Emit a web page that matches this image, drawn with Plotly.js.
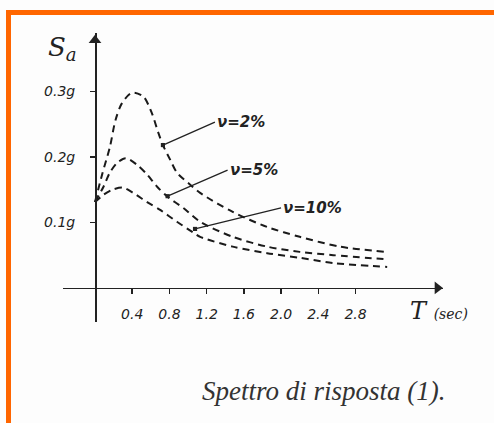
<!DOCTYPE html>
<html>
<head>
<meta charset="utf-8">
<script src="https://cdn.plot.ly/plotly-3.0.1.min.js"></script>
<style>
  html, body { margin: 0; padding: 0; background: #fdfdfd; }
  #frame { position: absolute; left: 6px; top: 10px; width: 500px; height: 430px;
           border-top: 5px solid #ff6600; border-left: 5px solid #ff6600; box-sizing: border-box; }
  #chart { position: absolute; left: 0; top: 0; width: 494px; height: 423px; }
</style>
</head>
<body>
<div id="frame"></div>
<div id="chart"></div>
<script>
// Period T (sec) and spectral acceleration Sa (g)
var T_2  = [0.00, 0.08, 0.16, 0.22, 0.29, 0.40, 0.52, 0.61, 0.68, 0.73, 0.81, 0.88, 1.02, 1.13, 1.48, 1.85, 2.20, 2.63, 3.12];
var Sa_2 = [0.131, 0.175, 0.215, 0.256, 0.282, 0.298, 0.292, 0.267, 0.237, 0.218, 0.195, 0.176, 0.158, 0.145, 0.116, 0.093, 0.078, 0.063, 0.055];

var T_5  = [0.00, 0.09, 0.16, 0.24, 0.33, 0.45, 0.56, 0.67, 0.78, 0.95, 1.13, 1.48, 1.85, 2.20, 2.56, 3.10];
var Sa_5 = [0.131, 0.154, 0.176, 0.191, 0.198, 0.188, 0.173, 0.154, 0.139, 0.122, 0.101, 0.078, 0.063, 0.055, 0.050, 0.044];

var T_10  = [0.00, 0.09, 0.19, 0.30, 0.41, 0.56, 0.70, 0.88, 1.05, 1.13, 1.48, 1.85, 2.20, 2.56, 3.14];
var Sa_10 = [0.131, 0.142, 0.150, 0.153, 0.145, 0.131, 0.119, 0.101, 0.085, 0.078, 0.063, 0.053, 0.046, 0.038, 0.032];

var xTickVals = [0.4, 0.8, 1.2, 1.6, 2.0, 2.4, 2.8];
var xTickText = ["0.4", "0.8", "1.2", "1.6", "2.0", "2.4", "2.8"];
var yTickVals = [0.1, 0.2, 0.3];
var yTickText = ["0.1g", "0.2g", "0.3g"];

var seriesLabels = ["ν=2%", "ν=5%", "ν=10%"];

var xRange = [-0.344, 3.74];
var yRange = [-0.052, 0.389];

var hand = {family: "DejaVu Sans", size: 14, color: "#222", style: "italic"};
var labelFont = {family: "DejaVu Sans", size: 15, color: "#222", style: "italic", weight: "bold"};

function curve(x, y) {
  return {x: x, y: y, type: "scatter", mode: "lines", showlegend: false, hoverinfo: "skip",
          line: {color: "#1a1a1a", width: 2, dash: "7px,5px", shape: "spline", smoothing: 0.8}};
}

// axis arrowheads drawn as triangle markers at the ends of the axis ranges
var arrowX = {x: [xRange[1] - 0.06], y: [0], type: "scatter", mode: "markers", showlegend: false,
  hoverinfo: "skip", cliponaxis: false, marker: {symbol: "triangle-right", size: 11, color: "#222"}};
var arrowY = {x: [0], y: [yRange[1] - 0.011], type: "scatter", mode: "markers", showlegend: false,
  hoverinfo: "skip", cliponaxis: false, marker: {symbol: "triangle-up", size: 11, color: "#222"}};

var data = [curve(T_2, Sa_2), curve(T_5, Sa_5), curve(T_10, Sa_10), arrowX, arrowY];

var L = 63, R = 51, TOP = 33, B = 101, W = 494, H = 423;
var plotW = W - L - R, plotH = H - TOP - B;
function px(x) { return (x - L) / plotW; }
function py(y) { return (H - B - y) / plotH; }

var layout = {
  width: W, height: H,
  margin: {l: L, r: R, t: TOP, b: B},
  paper_bgcolor: "rgba(0,0,0,0)",
  plot_bgcolor: "rgba(0,0,0,0)",
  showlegend: false,
  xaxis: {
    range: xRange, anchor: "free", position: (0 - yRange[0]) / (yRange[1] - yRange[0]),
    showgrid: false, zeroline: false, showline: true, linecolor: "#222", linewidth: 1.5,
    tickmode: "array", tickvals: xTickVals, ticktext: xTickText,
    ticks: "outside", ticklen: 5, tickcolor: "#222", tickwidth: 1.5,
    ticklabelstandoff: 8, tickfont: hand
  },
  yaxis: {
    range: yRange, anchor: "free", position: (0 - xRange[0]) / (xRange[1] - xRange[0]),
    showgrid: false, zeroline: false, showline: true, linecolor: "#222", linewidth: 1.5,
    tickmode: "array", tickvals: yTickVals, ticktext: yTickText,
    ticks: "outside", ticklen: 5, tickcolor: "#222", tickwidth: 1.5,
    ticklabelstandoff: 12, tickfont: hand
  },
  annotations: [
    // axis titles
    {x: px(46), y: py(49), xref: "paper", yref: "paper", xanchor: "left", yanchor: "middle",
     text: "S<sub>a</sub>", showarrow: false,
     font: {family: "DejaVu Serif", size: 26, color: "#222", style: "italic"}},
    {x: px(470), y: py(311), xref: "paper", yref: "paper", xanchor: "right", yanchor: "middle",
     text: "T <span style='font-size:14px'>(sec)</span>",
     showarrow: false, font: {family: "DejaVu Serif", size: 24, color: "#222", style: "italic"}},
    // curve labels with leaders
    {x: 0.73, y: 0.218, xref: "x", yref: "y", ax: 52, ay: -23, text: seriesLabels[0], showarrow: true,
     xanchor: "left", arrowhead: 7, arrowsize: 0.8, arrowwidth: 1.3, arrowcolor: "#222", font: labelFont},
    {x: 0.78, y: 0.140, xref: "x", yref: "y", ax: 60, ay: -26, text: seriesLabels[1], showarrow: true,
     xanchor: "left", arrowhead: 7, arrowsize: 0.8, arrowwidth: 1.3, arrowcolor: "#222", font: labelFont},
    {x: 1.075, y: 0.090, xref: "x", yref: "y", ax: 86, ay: -21, text: seriesLabels[2], showarrow: true,
     xanchor: "left", arrowhead: 7, arrowsize: 0.8, arrowwidth: 1.3, arrowcolor: "#222", font: labelFont},
    // caption
    {x: px(448), y: py(391), xref: "paper", yref: "paper", xanchor: "right", yanchor: "middle",
     text: "Spettro di risposta (1).", showarrow: false,
     font: {family: "Liberation Serif", size: 27, color: "#333", style: "italic"}}
  ]
};

Plotly.newPlot("chart", data, layout, {displayModeBar: false, staticPlot: true}).then(function (gd) {
  // drop empty placeholder title nodes
  gd.querySelectorAll("text").forEach(function (t) {
    if (!t.textContent || !t.textContent.trim()) t.parentNode.removeChild(t);
  });
});
</script>
</body>
</html>
